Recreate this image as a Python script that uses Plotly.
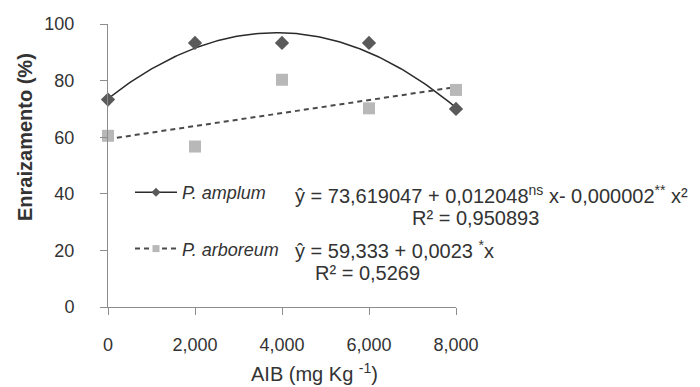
import numpy as np
import plotly.graph_objects as go

# ---- data ----
doses = [0, 2000, 4000, 6000, 8000]
amplum = [73.3, 93.3, 93.3, 93.3, 70.0]
arboreum = [60.5, 56.7, 80.3, 70.2, 76.7]
x_ticks = [0, 2000, 4000, 6000, 8000]
x_ticktext = ["0", "2,000", "4,000", "6,000", "8,000"]
y_ticks = [0, 20, 40, 60, 80, 100]

# regression coefficients (as drawn)
amp_coef = [73.619047, 0.012048, -0.000001556]
arb_coef = [59.333, 0.0023]

xf = np.linspace(0, 8000, 121)
amp_fit = amp_coef[0] + amp_coef[1] * xf + amp_coef[2] * xf ** 2
arb_fit = arb_coef[0] + arb_coef[1] * xf

W, H = 700, 387
L, R, T, B = 108, 244, 24, 80
pw, ph = W - L - R, H - T - B

def px(xp):
    return (xp - L) / pw

def py(yp):
    return (H - B - yp) / ph

TXT = "#333333"
fig = go.Figure()

fig.add_trace(go.Scatter(x=xf, y=amp_fit, mode="lines", line=dict(color="#2b2b2b", width=1.5),
                         showlegend=False, hoverinfo="skip"))
fig.add_trace(go.Scatter(x=xf, y=arb_fit, mode="lines", line=dict(color="#4a4a4a", width=2, dash="5px,4px"),
                         showlegend=False, hoverinfo="skip"))
fig.add_trace(go.Scatter(x=doses, y=amplum, mode="markers", cliponaxis=False,
                         marker=dict(symbol="diamond", size=11, color="#5a5a5a"), showlegend=False))
fig.add_trace(go.Scatter(x=doses, y=arboreum, mode="markers", cliponaxis=False,
                         marker=dict(symbol="square", size=12, color="#b8b8b8"), showlegend=False))

# legend-only entries
fig.add_trace(go.Scatter(x=[None], y=[None], mode="lines+markers", name="<i>P. amplum</i>",
                         legendgroup="a",
                         line=dict(color="#2b2b2b", width=1.5),
                         marker=dict(symbol="diamond", size=7, color="#5a5a5a")))
fig.add_trace(go.Scatter(x=[None], y=[None], mode="lines+markers", name="<i>P. arboreum</i>",
                         legendgroup="b",
                         line=dict(color="#4a4a4a", width=2, dash="5px,4px"),
                         marker=dict(symbol="square", size=7, color="#b8b8b8")))

font_eq = dict(family="Liberation Sans, Arial", size=20, color=TXT)
ann = [
    dict(x=px(293), y=py(194), text="ŷ = 73,619047 + 0,012048<sup>ns</sup> x- 0,000002<sup>**</sup> x²",
         xanchor="left"),
    dict(x=px(410), y=py(218), text="R² = 0,950893", xanchor="left"),
    dict(x=px(293), y=py(249), text="ŷ = 59,333 + 0,0023 <sup>*</sup>x", xanchor="left"),
    dict(x=px(313), y=py(273), text="R² = 0,5269", xanchor="left"),
]
for a in ann:
    fig.add_annotation(xref="paper", yref="paper", showarrow=False, yanchor="middle",
                       font=font_eq, **a)

fig.add_annotation(xref="paper", yref="paper", x=px(314), y=py(373), showarrow=False,
                   text="AIB (mg Kg <sup>-1</sup>)", xanchor="center", yanchor="middle",
                   font=dict(family="Liberation Sans, Arial", size=20, color=TXT))
fig.add_annotation(xref="paper", yref="paper", x=px(25), y=py(137), showarrow=False,
                   text="<b>Enraizamento (%)</b>", textangle=-90, xanchor="center", yanchor="middle",
                   font=dict(family="Liberation Sans, Arial", size=20, color=TXT))

fig.update_layout(
    width=W, height=H,
    margin=dict(l=L, r=R, t=T, b=B),
    paper_bgcolor="white", plot_bgcolor="white",
    font=dict(family="Liberation Sans, Arial", size=18, color=TXT),
    showlegend=True,
    legend=dict(x=px(130), y=py(174), xanchor="left", yanchor="top", bgcolor="rgba(0,0,0,0)",
                font=dict(size=18, color=TXT), tracegroupgap=30, traceorder="grouped",
                itemwidth=42),
    xaxis=dict(range=[0, 8000], tickvals=x_ticks, ticktext=x_ticktext, showgrid=False, zeroline=False,
               showline=True, linecolor="#8c8c8c", linewidth=1, ticks="outside", ticklen=7,
               tickcolor="#8c8c8c", ticklabelstandoff=14),
    yaxis=dict(range=[0, 100], tickvals=y_ticks, showgrid=False, zeroline=False,
               showline=True, linecolor="#8c8c8c", linewidth=1, ticks="outside", ticklen=7,
               tickcolor="#8c8c8c", ticklabelstandoff=22),
)

fig.write_html("out.html")
